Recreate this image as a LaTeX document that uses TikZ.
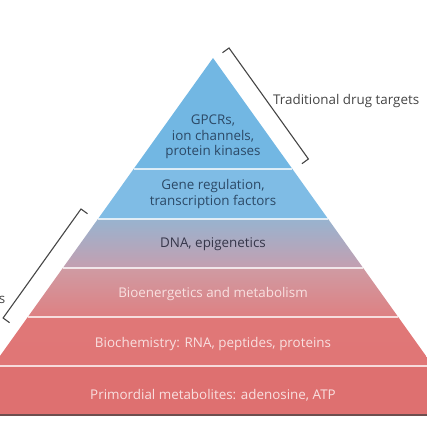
\documentclass[tikz,border=0pt]{standalone}
\usepackage{fontspec}
\setmainfont{Open Sans}
\definecolor{blueA}{HTML}{72B7E3}
\definecolor{blueB}{HTML}{7FBCE5}
\definecolor{dnaTop}{HTML}{98B3CF}
\definecolor{dnaBot}{HTML}{C49FB0}
\definecolor{bioTop}{HTML}{CF9BA3}
\definecolor{bioBot}{HTML}{DE8082}
\definecolor{redA}{HTML}{E07676}
\definecolor{redB}{HTML}{DE7070}
\definecolor{navy}{HTML}{2C4966}
\definecolor{dnatext}{HTML}{36364A}
\definecolor{pinktext}{HTML}{F9E0E0}
\definecolor{greytext}{HTML}{454545}
\definecolor{shadow}{HTML}{6E4E4E}
\tikzset{
  layerlabel/.style={font=\fontsize{13.4}{15.5}\selectfont, align=center, inner sep=0pt},
  sep/.style={draw=white, draw opacity=0.75, line width=1.8pt},
  bracket/.style={draw=greytext, line width=1.1pt, line join=miter},
  sidelabel/.style={font=\fontsize{13.4}{15.5}\selectfont, text=greytext, inner sep=0pt}
}
\begin{document}
\begin{tikzpicture}[x=1pt,y=-1pt]
\useasboundingbox (0,0) rectangle (427,427);
\clip (0,0) rectangle (427,427);
% layers
\fill[blueA] (213,58) -- (292.4,169) -- (133.6,169) -- cycle;
\fill[blueB] (133.6,169) -- (292.4,169) -- (328.1,219) -- (97.9,219) -- cycle;
\shade[top color=dnaTop, bottom color=dnaBot] (97.9,219) -- (328.1,219) -- (363.2,268) -- (62.8,268) -- cycle;
\shade[top color=bioTop, bottom color=bioBot] (62.8,268) -- (363.2,268) -- (398.2,317) -- (27.8,317) -- cycle;
\shade[top color=redA!90!bioBot, bottom color=redA] (27.8,317) -- (398.2,317) -- (433.2,366) -- (-7.2,366) -- cycle;
\fill[redB] (-7.2,366) -- (433.2,366) -- (467.5,414) -- (-41.5,414) -- cycle;
% separators
\draw[sep] (133.6,169) -- (292.4,169);
\draw[sep] (97.9,219) -- (328.1,219);
\draw[sep] (62.8,268) -- (363.2,268);
\draw[sep] (27.8,317) -- (398.2,317);
\draw[sep] (-7.2,366) -- (433.2,366);
\draw[shadow, line width=1.6pt] (-2,414.8) -- (429,414.8);
% labels
\node[layerlabel, text=navy] (gpcr) at (213,137) {GPCRs,\\ion channels,\\protein kinases};
\node[layerlabel, text=navy] (gene) at (213,194) {Gene regulation,\\transcription factors};
\node[layerlabel, text=dnatext] (dna) at (213,244) {DNA, epigenetics};
\node[layerlabel, text=pinktext] (bio) at (213,294) {Bioenergetics and metabolism};
\node[layerlabel, text=pinktext] (chem) at (213,344) {Biochemistry: RNA, peptides, proteins};
\node[layerlabel, text=pinktext] (prim) at (213,395) {Primordial metabolites: adenosine, ATP};
% right bracket
\coordinate (rh1) at (222.5,52.7);
\coordinate (rb1) at (229,48);
\coordinate (rb2) at (308.4,159);
\coordinate (rh2) at (301.9,163.7);
\draw[bracket] (rh1) -- (rb1) -- (rb2) -- (rh2);
\node[sidelabel, anchor=base west] (trad) at (273,105) {Traditional drug targets};
% left bracket
\coordinate (lh1) at (87.5,213.7);
\coordinate (lb1) at (81,209);
\coordinate (lb2) at (3.1,318);
\coordinate (lh2) at (9.6,322.7);
\draw[bracket] (lh1) -- (lb1) -- (lb2) -- (lh2);
\node[sidelabel, anchor=base east] (lefts) at (5.5,303) {s};
\end{tikzpicture}
\end{document}
